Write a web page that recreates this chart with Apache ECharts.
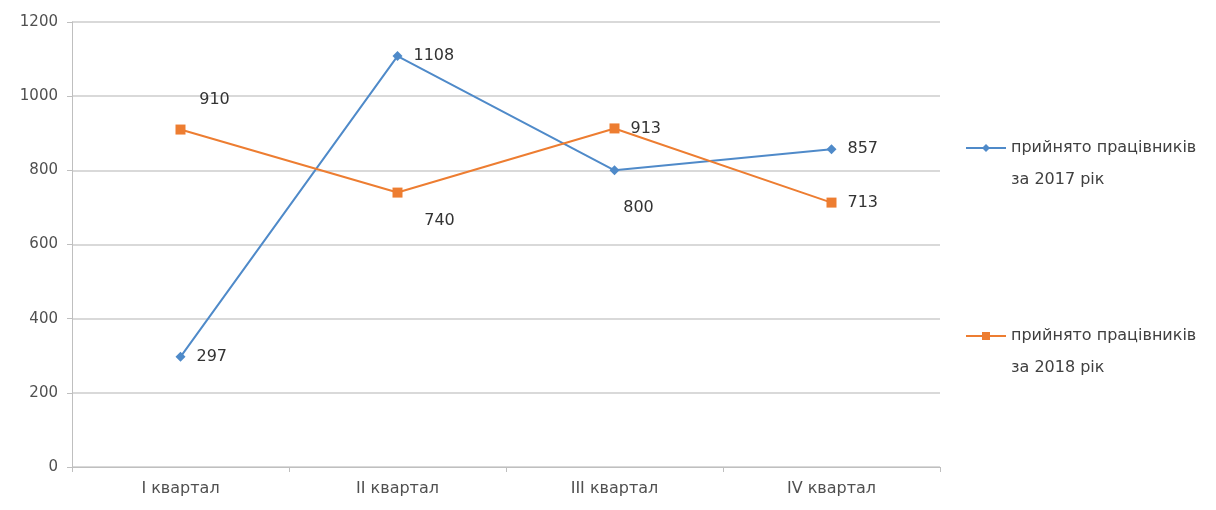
<!DOCTYPE html>
<html>
<head>
<meta charset="utf-8">
<script src="https://cdn.jsdelivr.net/npm/echarts@6/dist/echarts.min.js"></script>
<style>
  html, body { margin: 0; padding: 0; background: #fff; }
  #chart { width: 1216px; height: 510px; }
</style>
</head>
<body>
<div id="chart"></div>
<script>
const quarters = ["I квартал", "II квартал", "III квартал", "IV квартал"];
const hired2017 = [297, 1108, 800, 857];
const hired2018 = [910, 740, 913, 713];
const name2017 = "прийнято працівників\nза 2017 рік";
const name2018 = "прийнято працівників\nза 2018 рік";

// label placement per point, as in the source chart
const off2017 = [null, null, [24, 38], null];
const off2018 = [[34, -30], [42, 28], null, null];

const font = "DejaVu Sans";

function withLabels(values, offs) {
  return values.map((v, i) => {
    const o = offs[i];
    if (!o) return v;
    return { value: v, label: { position: "inside", offset: o } };
  });
}

function legendAt(name, top) {
  return {
    data: [name],
    orient: "vertical",
    left: 965,
    top: top,
    padding: 0,
    itemWidth: 40,
    itemHeight: 10,
    itemGap: 0,
    // leading blank line keeps the icon level with the first text line
    formatter: (n) => "\n" + n,
    textStyle: { fontSize: 16, color: "#404040", lineHeight: 32, fontFamily: font },
  };
}

const chart = echarts.init(document.getElementById("chart"));
const option = {
  animation: false,
  textStyle: { fontFamily: font },
  grid: { left: 72, right: 276, top: 22, bottom: 43 },
  legend: [legendAt(name2017, 100), legendAt(name2018, 288)],
  xAxis: {
    type: "category",
    data: quarters,
    boundaryGap: true,
    axisLine: { lineStyle: { color: "#bfbfbf", width: 1 } },
    axisTick: { show: true, length: 5, lineStyle: { color: "#bfbfbf" } },
    axisLabel: { fontSize: 16, color: "#505050", margin: 14 },
  },
  yAxis: {
    type: "value",
    min: 0,
    max: 1200,
    interval: 200,
    axisLine: { show: true, lineStyle: { color: "#bfbfbf" } },
    axisTick: { show: true, length: 5, lineStyle: { color: "#bfbfbf" } },
    axisLabel: { fontSize: 15, color: "#505050", margin: 14, formatter: (v) => String(v) },
    splitLine: { lineStyle: { color: "#cccccc", width: 1.5 } },
  },
  series: [
    {
      name: name2017,
      type: "line",
      data: withLabels(hired2017, off2017),
      symbol: "diamond",
      symbolSize: 10,
      lineStyle: { color: "#4f8ac9", width: 2 },
      itemStyle: { color: "#4f8ac9" },
      label: { show: true, position: "right", distance: 11, fontSize: 16, color: "#333" },
    },
    {
      name: name2018,
      type: "line",
      data: withLabels(hired2018, off2018),
      symbol: "rect",
      symbolSize: 10,
      lineStyle: { color: "#ed7d31", width: 2 },
      itemStyle: { color: "#ed7d31" },
      label: { show: true, position: "right", distance: 11, fontSize: 16, color: "#333" },
    },
  ],
};
chart.setOption(option);
</script>
</body>
</html>
